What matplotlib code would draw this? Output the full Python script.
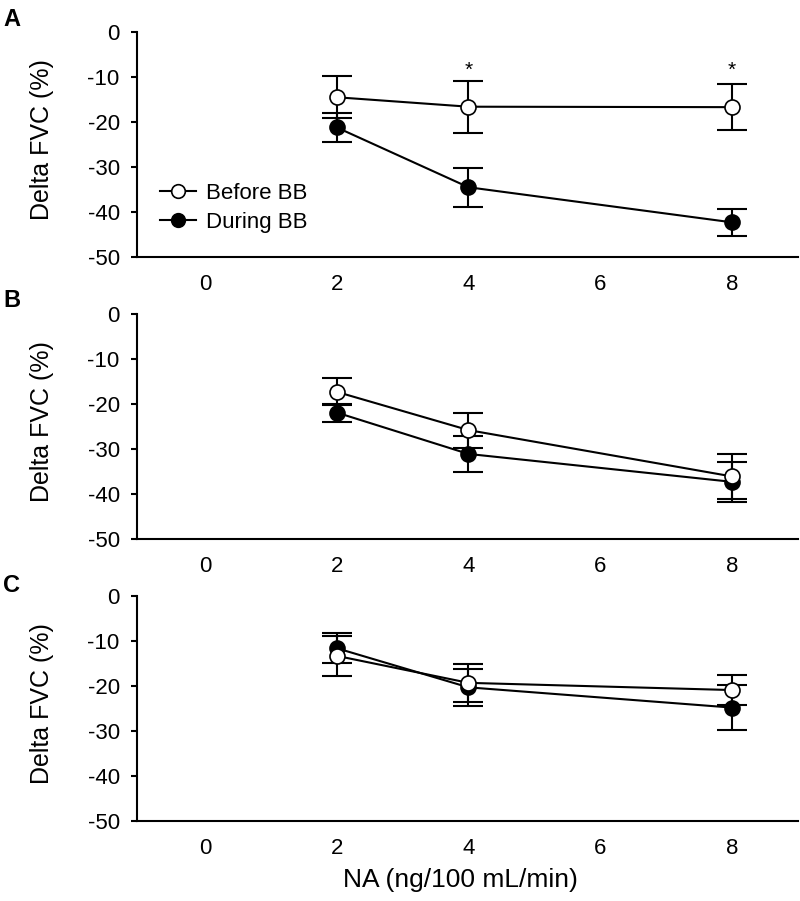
import matplotlib
matplotlib.use("Agg")
import matplotlib.pyplot as plt
from matplotlib.lines import Line2D

plt.rcParams["font.family"] = ["Liberation Sans", "DejaVu Sans"]
plt.rcParams["axes.unicode_minus"] = False

# NA dose (ng/100 mL/min)
DOSES = [2, 4, 8]
X_TICKS = [0, 2, 4, 6, 8]
Y_TICKS = [0, -10, -20, -30, -40, -50]

# Delta FVC (%) mean and error, per panel
A_BEFORE = [-14.5, -16.6, -16.7]
A_BEFORE_ERR = [4.7, 5.8, 5.1]
A_DURING = [-21.2, -34.5, -42.3]
A_DURING_ERR = [3.2, 4.3, 3.0]

B_BEFORE = [-17.3, -25.8, -36.1]
B_BEFORE_ERR = [3.0, 3.9, 5.0]
B_DURING = [-21.9, -31.1, -37.3]
B_DURING_ERR = [2.0, 3.9, 4.5]

C_BEFORE = [-13.3, -19.3, -20.9]
C_BEFORE_ERR = [4.4, 4.2, 3.4]
C_DURING = [-11.6, -20.3, -24.8]
C_DURING_ERR = [3.3, 4.1, 5.0]

SIG_DOSES = [4, 8]   # asterisks in panel A
SIG_Y = -8.6

PANELS = [
    ("A", A_BEFORE, A_BEFORE_ERR, A_DURING, A_DURING_ERR),
    ("B", B_BEFORE, B_BEFORE_ERR, B_DURING, B_DURING_ERR),
    ("C", C_BEFORE, C_BEFORE_ERR, C_DURING, C_DURING_ERR),
]

W, H = 800, 901
LEFT, RIGHT = 137, 798
TOPS = [32, 314, 596]
AX_H = 225
LETTER_Y = [8, 289, 574]

fig = plt.figure(figsize=(W / 100, H / 100), dpi=100, facecolor="white")

LW = 1.5
MS = 10.8


def draw_series(ax, y, err, face, z):
    ax.errorbar(DOSES, y, yerr=err, fmt="none", ecolor="black",
                elinewidth=LW, capsize=11, capthick=LW, zorder=z)
    ax.plot(DOSES, y, "-o", color="black", lw=LW, ms=MS,
            mfc=face, mec="black", mew=1.2, zorder=z + 1)


for i, (letter, bef, bef_e, dur, dur_e) in enumerate(PANELS):
    top = TOPS[i]
    ax = fig.add_axes([LEFT / W, 1 - (top + AX_H) / H,
                       (RIGHT - LEFT) / W, AX_H / H])

    draw_series(ax, dur, dur_e, "black", 2)
    draw_series(ax, bef, bef_e, "white", 4)

    ax.set_xlim(-1.03, 9.0)
    ax.set_ylim(-50, 0)
    ax.set_xticks(X_TICKS)
    ax.set_yticks(Y_TICKS)
    ax.spines["top"].set_visible(False)
    ax.spines["right"].set_visible(False)
    for s in ("left", "bottom"):
        ax.spines[s].set_linewidth(LW)
    ax.tick_params(axis="x", length=0, pad=12, labelsize=16)
    ax.tick_params(axis="y", direction="out", length=4.5, width=LW,
                   pad=8, labelsize=16)

    ax.set_ylabel("Delta FVC (%)", fontsize=18)
    ax.yaxis.set_label_coords(-0.125, 0.52)

    fig.text(3 / W, 1 - LETTER_Y[i] / H, letter, fontsize=17,
             fontweight="bold", ha="left", va="top")

    if letter == "A":
        for d in SIG_DOSES:
            ax.text(d, SIG_Y, "*", ha="center", va="center", fontsize=15)
        handles = [
            Line2D([], [], color="black", lw=LW, marker="o", ms=MS - 1,
                   mfc="white", mec="black", mew=1.2),
            Line2D([], [], color="black", lw=LW, marker="o", ms=MS - 1,
                   mfc="black", mec="black", mew=1.2),
        ]
        ax.legend(handles, ["Before BB", "During BB"], loc="upper left",
                  bbox_to_anchor=(0.035, 0.33), frameon=False, fontsize=16,
                  handlelength=1.6, handletextpad=0.45, labelspacing=0.35,
                  borderpad=0, borderaxespad=0)

    if letter == "C":
        ax.set_xlabel("NA (ng/100 mL/min)", fontsize=19)
        ax.xaxis.set_label_coords(0.49, -0.21)

fig.savefig("out.png", dpi=100, facecolor="white")
